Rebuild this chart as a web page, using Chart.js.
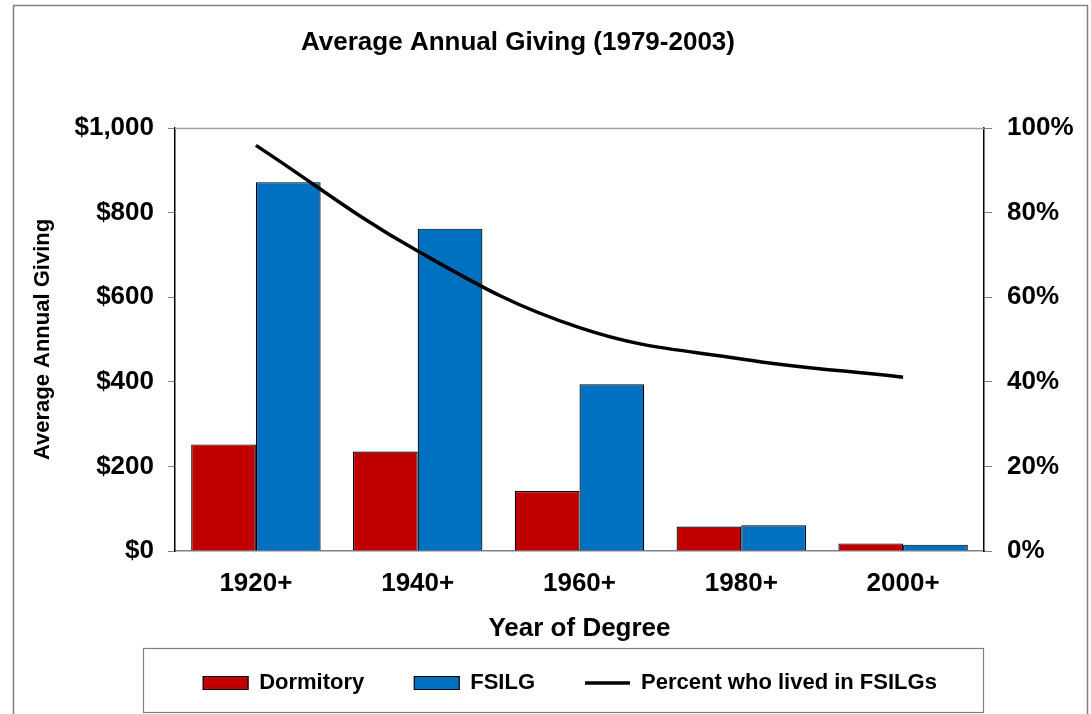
<!DOCTYPE html>
<html>
<head>
<meta charset="utf-8">
<script src="https://cdn.jsdelivr.net/npm/chart.js@4/dist/chart.umd.min.js"></script>
<style>
  html, body { margin: 0; padding: 0; background: #ffffff; }
  #wrap { position: relative; width: 1091px; height: 714px; }
  canvas { display: block; }
</style>
</head>
<body>
<div id="wrap"><canvas id="c" width="1091" height="714"></canvas></div>
<script>
const chartTitle = 'Average Annual Giving (1979-2003)';
const categories = ['1920+', '1940+', '1960+', '1980+', '2000+'];
const dormitory = [252, 235, 142, 58, 18];
const fsilg = [872, 762, 394, 61, 15];
const percentLived = [95.9, 70.9, 52.8, 45.4, 41.1];
const seriesNames = ['Dormitory', 'FSILG', 'Percent who lived in FSILGs'];
const yTitle = 'Average Annual Giving';
const xTitle = 'Year of Degree';

const FONT = "'Liberation Sans', Arial, sans-serif";

const decorPlugin = {
  id: 'decor',
  beforeDraw(chart) {
    const ctx = chart.ctx;
    ctx.save();
    ctx.fillStyle = '#ffffff';
    ctx.fillRect(0, 0, chart.width, chart.height);
    ctx.strokeStyle = '#808080';
    ctx.lineWidth = 1.5;
    ctx.strokeRect(13.5, 5.5, 1074, 720);
    ctx.lineWidth = 1.2;
    ctx.strokeRect(143.5, 648.5, 840, 64);
    ctx.restore();
  },
  afterDraw(chart) {
    const ctx = chart.ctx;
    const a = chart.chartArea;
    ctx.save();
    ctx.strokeStyle = '#a0a0a0';
    ctx.lineWidth = 1.5;
    ctx.beginPath();
    ctx.moveTo(a.left, a.top + 0.5);
    ctx.lineTo(a.right, a.top + 0.5);
    ctx.stroke();
    ctx.fillStyle = '#000000';
    ctx.font = 'bold 26px ' + FONT;
    ctx.textAlign = 'center';
    ctx.textBaseline = 'middle';
    ctx.fillText(chartTitle, 518, 43);
    ctx.restore();
  }
};

new Chart(document.getElementById('c'), {
  data: {
    labels: categories,
    datasets: [
      {
        type: 'line',
        label: seriesNames[2],
        data: percentLived,
        yAxisID: 'y1',
        borderColor: '#000000',
        backgroundColor: '#000000',
        borderWidth: 3.5,
        pointRadius: 0,
        pointHoverRadius: 0,
        pointStyle: 'line',
        tension: 0.4,
        fill: false,
        order: 0
      },
      {
        type: 'bar',
        label: seriesNames[0],
        data: dormitory,
        yAxisID: 'y',
        backgroundColor: '#C00000',
        borderColor: '#000000',
        borderWidth: 1.2,
        pointStyle: 'rect',
        categoryPercentage: 0.8,
        barPercentage: 1.0,
        order: 1
      },
      {
        type: 'bar',
        label: seriesNames[1],
        data: fsilg,
        yAxisID: 'y',
        backgroundColor: '#0070C0',
        borderColor: '#000000',
        borderWidth: 1.2,
        pointStyle: 'rect',
        categoryPercentage: 0.8,
        barPercentage: 1.0,
        order: 2
      }
    ]
  },
  options: {
    responsive: false,
    animation: false,
    devicePixelRatio: 1,
    layout: { padding: { left: 52, right: 3, top: 128, bottom: 10 } },
    scales: {
      x: {
        type: 'category',
        grid: { drawOnChartArea: false, drawTicks: false },
        border: { color: '#808080', width: 1.5 },
        ticks: { color: '#000000', padding: 17, font: { family: FONT, size: 26, weight: 'bold' } },
        title: {
          display: true,
          text: xTitle,
          color: '#000000',
          font: { family: FONT, size: 26, weight: 'bold' },
          padding: { top: -2.8, bottom: -22.6 }
        }
      },
      y: {
        position: 'left',
        min: 0,
        max: 1000,
        ticks: {
          stepSize: 200,
          color: '#000000',
          padding: 14,
          font: { family: FONT, size: 26, weight: 'bold' },
          callback: (v) => '$' + Number(v).toLocaleString('en-US')
        },
        grid: { drawOnChartArea: false, drawTicks: true, tickLength: 7, color: '#808080' },
        border: { color: '#000000', width: 1.5 },
        title: {
          display: true,
          text: yTitle,
          color: '#000000',
          font: { family: FONT, size: 22, weight: 'bold' },
          padding: { top: -22.2, bottom: 0 }
        },
        afterFit(scale) { scale.width = 123; }
      },
      y1: {
        position: 'right',
        min: 0,
        max: 100,
        ticks: {
          stepSize: 20,
          color: '#000000',
          padding: 15,
          font: { family: FONT, size: 26, weight: 'bold' },
          callback: (v) => v + '%'
        },
        grid: { drawOnChartArea: false, drawTicks: true, tickLength: 8, color: '#808080' },
        border: { color: '#000000', width: 1.5 },
        afterFit(scale) { scale.width = 104; }
      }
    },
    plugins: {
      title: { display: false },
      tooltip: { enabled: false },
      legend: {
        display: true,
        position: 'bottom',
        labels: {
          color: '#000000',
          font: { family: FONT, size: 22, weight: 'bold' },
          usePointStyle: true,
          pointStyleWidth: 45,
          boxHeight: 13,
          padding: 50,
          sort: (a, b) => seriesNames.indexOf(a.text) - seriesNames.indexOf(b.text)
        }
      }
    }
  },
  plugins: [decorPlugin]
});
</script>
</body>
</html>
